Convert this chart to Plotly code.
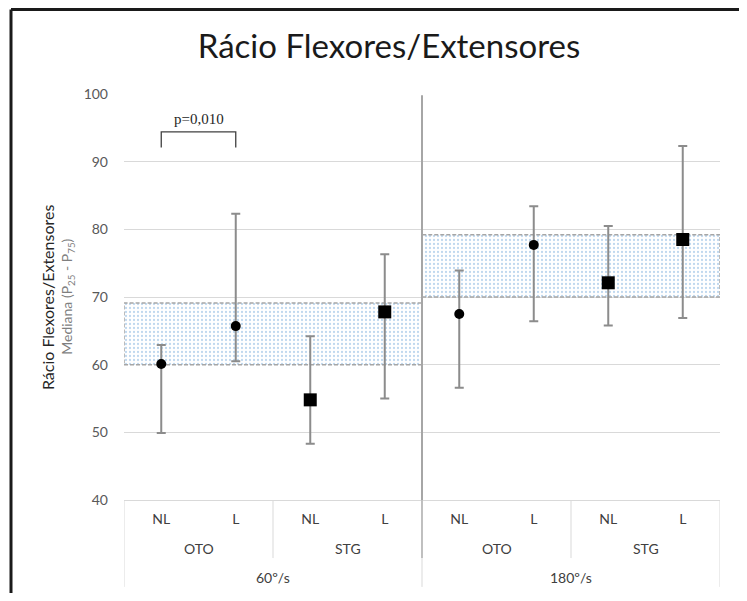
import plotly.graph_objects as go

# ---- data ----
speeds = ["60º/s", "180º/s"]
groups = ["OTO", "STG"]
sides = ["NL", "L"]

# order: 60 OTO NL, 60 OTO L, 60 STG NL, 60 STG L, 180 OTO NL, 180 OTO L, 180 STG NL, 180 STG L
median = [60.1, 65.7, 54.8, 67.8, 67.5, 77.7, 72.1, 78.5]
p75 = [62.9, 82.3, 64.2, 76.3, 73.9, 83.4, 80.5, 92.3]
p25 = [49.9, 60.5, 48.3, 55.0, 56.6, 66.4, 65.8, 66.9]

# reference bands per speed (low, high)
band_low = [60.0, 70.0]
band_high = [69.1, 79.2]

p_text = "p=0,010"
p_pair = [0, 1]
p_y = [92.1, 94.4]

FONT = "Lato"
W, H = 731, 585
n = len(median)
xs = list(range(n))
tick_text = [sides[i % 2] for i in xs]

fig = go.Figure()

# shaded bands
for s in range(len(speeds)):
    x0 = s * 4 - 0.5
    x1 = s * 4 + 3.5
    fig.add_trace(go.Scatter(
        x=[x0, x1, x1, x0, x0],
        y=[band_low[s], band_low[s], band_high[s], band_high[s], band_low[s]],
        mode="lines", fill="toself",
        fillcolor="rgba(255,255,255,0)",
        fillpattern=dict(shape=".", fgcolor="#7fb0de", bgcolor="white",
                         size=4, solidity=0.25),
        line=dict(color="#a6a6a6", width=1.5, dash="4px,2px"),
        hoverinfo="skip", showlegend=False,
    ))

# points with error bars
for g, sym, size in [(0, "circle", 10), (1, "square", 13)]:
    idx = [i for i in xs if (i // 2) % 2 == g]
    fig.add_trace(go.Scatter(
        x=idx,
        y=[median[i] for i in idx],
        mode="markers",
        marker=dict(symbol=sym, size=size, color="black"),
        error_y=dict(type="data", symmetric=False,
                     array=[p75[i] - median[i] for i in idx],
                     arrayminus=[median[i] - p25[i] for i in idx],
                     color="#8c8c8c", thickness=2, width=4.5),
        showlegend=False,
    ))

shapes = []
# vertical separator between speeds
shapes.append(dict(type="line", xref="x", yref="paper", x0=3.5, x1=3.5,
                   y0=-0.143, y1=0.997, line=dict(color="#a6a6a6", width=2)))
# table lines
for xv in [-0.5, 3.5, 7.5]:
    shapes.append(dict(type="line", xref="x", yref="paper", x0=xv, x1=xv,
                       y0=-0.214, y1=0, line=dict(color="#d9d9d9", width=1)))
for xv in [1.5, 5.5]:
    shapes.append(dict(type="line", xref="x", yref="paper", x0=xv, x1=xv,
                       y0=-0.143, y1=0, line=dict(color="#d9d9d9", width=1)))
# significance bracket
a, b = p_pair
shapes.append(dict(type="path", xref="x", yref="y",
                   path=f"M {a},{p_y[0]} L {a},{p_y[1]} L {b},{p_y[1]} L {b},{p_y[0]}",
                   line=dict(color="#404040", width=1.3)))
# outer frame (top and left edges only visible)
shapes.append(dict(type="line", xref="paper", yref="paper",
                   x0=-0.1896, x1=(W - 116) / 596, y0=1.208, y1=1.208,
                   line=dict(color="#1a1a1a", width=3), layer="above"))
shapes.append(dict(type="line", xref="paper", yref="paper",
                   x0=-0.1896, x1=-0.1896, y0=-0.23, y1=1.208,
                   line=dict(color="#1a1a1a", width=3), layer="above"))

annotations = []
annotations.append(dict(x=(a + b) / 2, y=p_y[1], xref="x", yref="y", text=p_text,
                        showarrow=False, yanchor="bottom", yshift=3,
                        font=dict(family="Liberation Serif", size=15, color="#262626")))
for k, gname in enumerate(groups * 2):
    annotations.append(dict(x=2 * k + 0.5, y=-0.12, xref="x", yref="paper", text=gname,
                            showarrow=False, yanchor="middle",
                            font=dict(family=FONT, size=14, color="#404040")))
for k, sname in enumerate(speeds):
    annotations.append(dict(x=4 * k + 1.5, y=-0.192, xref="x", yref="paper", text=sname,
                            showarrow=False, yanchor="middle",
                            font=dict(family=FONT, size=14, color="#404040")))
annotations.append(dict(x=-0.129, y=0.5, xref="paper", yref="paper",
                        text="Rácio Flexores/Extensores", textangle=-90,
                        showarrow=False, xanchor="center", yanchor="middle",
                        font=dict(family=FONT, size=16, color="#262626")))
annotations.append(dict(x=-0.096, y=0.5, xref="paper", yref="paper",
                        text="Mediana (P<sub>25</sub> - P<sub>75</sub>)", textangle=-90,
                        showarrow=False, xanchor="center", yanchor="middle",
                        font=dict(family=FONT, size=14, color="#7f7f7f")))

fig.update_layout(
    width=W, height=H,
    margin=dict(l=116, r=W - 712, t=86, b=H - 492),
    paper_bgcolor="white", plot_bgcolor="white",
    title=dict(text="Rácio Flexores/Extensores", x=381 / W, xref="container",
               xanchor="center",
               y=1 - 38 / H, yref="container", yanchor="middle",
               font=dict(family=FONT, size=33, color="#1a1a1a")),
    shapes=shapes, annotations=annotations,
    xaxis=dict(range=[-0.5, 7.5], tickvals=xs, ticktext=tick_text,
               showgrid=False, zeroline=False, showline=True, linecolor="#d9d9d9",
               linewidth=1, ticks="", ticklabelstandoff=6,
               tickfont=dict(family=FONT, size=14, color="#404040")),
    yaxis=dict(range=[40, 100], dtick=10, showgrid=True, gridcolor="#d9d9d9",
               gridwidth=1, zeroline=False, showline=False, ticks="",
               ticklabelstandoff=15,
               tickfont=dict(family=FONT, size=14, color="#595959")),
)

fig.write_html("out.html")
